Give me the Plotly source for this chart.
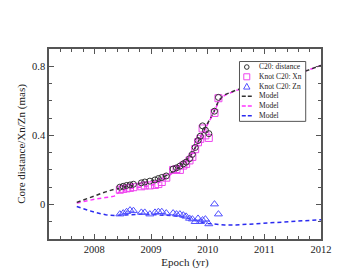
import plotly.graph_objects as go

# ---- data ----
epochs = [2008.45, 2008.51, 2008.57, 2008.63, 2008.69, 2008.83, 2008.89, 2008.98,
          2009.07, 2009.13, 2009.19, 2009.27, 2009.39, 2009.45, 2009.51, 2009.57,
          2009.62, 2009.68, 2009.73, 2009.78, 2009.83, 2009.87, 2009.91, 2009.96,
          2010.02, 2010.12, 2010.19]
c20_distance = [0.100, 0.105, 0.110, 0.113, 0.117, 0.125, 0.130, 0.135,
                0.142, 0.150, 0.156, 0.165, 0.205, 0.212, 0.222, 0.235,
                0.245, 0.265, 0.290, 0.330, 0.370, 0.395, 0.455, 0.430,
                0.410, 0.540, 0.620]
c20_xn = [0.085, 0.090, 0.093, 0.096, 0.100, 0.105, 0.110, 0.110,
          0.113, 0.118, 0.130, 0.155, 0.200, 0.205, 0.200, 0.225,
          0.235, 0.255, 0.275, 0.320, 0.360, 0.380, 0.440, 0.400,
          0.385, 0.530, 0.615]
c20_zn = [-0.056, -0.050, -0.042, -0.033, -0.036, -0.046, -0.046, -0.056,
          -0.046, -0.042, -0.042, -0.050, -0.050, -0.056, -0.056, -0.062,
          -0.069, -0.081, -0.085, -0.100, -0.081, -0.100, -0.090, -0.085,
          -0.113, 0.002, -0.056]

model_t = [2007.69, 2007.85, 2008.0, 2008.2, 2008.35, 2008.45, 2008.6, 2008.8,
           2009.0, 2009.2, 2009.4, 2009.5, 2009.6, 2009.7, 2009.8, 2009.9,
           2010.0, 2010.1, 2010.2, 2010.3, 2010.5, 2010.7, 2011.0, 2011.25,
           2011.5, 2011.75, 2012.0]
model_dist = [0.012, 0.032, 0.052, 0.073, 0.088, 0.096, 0.108, 0.121,
              0.135, 0.155, 0.190, 0.215, 0.245, 0.285, 0.340, 0.410,
              0.470, 0.530, 0.605, 0.635, 0.662, 0.680, 0.705, 0.728,
              0.750, 0.775, 0.805]
model_xn = [0.008, 0.020, 0.030, 0.040, 0.048, 0.075, 0.090, 0.100,
            0.110, 0.135, 0.185, 0.210, 0.240, 0.280, 0.335, 0.405,
            0.465, 0.525, 0.600, 0.632, 0.660, 0.680, 0.705, 0.728,
            0.750, 0.775, 0.805]
model_zn = [-0.012, -0.030, -0.045, -0.060, -0.064, -0.062, -0.058, -0.057,
            -0.058, -0.060, -0.065, -0.070, -0.075, -0.085, -0.095, -0.103,
            -0.110, -0.114, -0.117, -0.119, -0.119, -0.115, -0.108, -0.103,
            -0.098, -0.093, -0.088]

legend_labels = ["C20: distance", "Knot C20: Xn", "Knot C20: Zn", "Model", "Model", "Model"]

BLACK = "#333333"
MAG = "#ff33ff"
BLUE = "#2a2af0"
FONT = "Liberation Serif"
DASH = "4px,3px"

fig = go.Figure()
fig.add_trace(go.Scatter(x=model_t, y=model_zn, mode="lines",
                         line=dict(color=BLUE, width=1.5, dash=DASH)))
fig.add_trace(go.Scatter(x=model_t, y=model_xn, mode="lines",
                         line=dict(color=MAG, width=1.5, dash=DASH)))
fig.add_trace(go.Scatter(x=model_t, y=model_dist, mode="lines",
                         line=dict(color=BLACK, width=1.5, dash=DASH)))
fig.add_trace(go.Scatter(x=epochs, y=c20_zn, mode="markers",
                         marker=dict(symbol="triangle-up-open", size=7, color="#5050ff", line=dict(width=1))))
fig.add_trace(go.Scatter(x=epochs, y=c20_xn, mode="markers",
                         marker=dict(symbol="square-open", size=7, color="#ee44ee", line=dict(width=1))))
fig.add_trace(go.Scatter(x=epochs, y=c20_distance, mode="markers",
                         marker=dict(symbol="circle-open", size=6, color="#333333", line=dict(width=1))))

# ---- manual legend (paper coordinates) ----
L, R, T, B = 41, 313.3, 41, 230.7
def px(x): return (x - L) / (R - L)
def py(y): return (B - y) / (B - T)

LEG_FS = 7.5
step = LEG_FS * 1.3
rows = [59 + step * i for i in range(6)]

shapes = [dict(type="rect", xref="paper", yref="paper",
               x0=px(231.7), x1=px(298), y0=py(rows[-1] + 5.5), y1=py(rows[0] - 5.5),
               line=dict(color="#555555", width=1), fillcolor="white", layer="above")]
mx = 239
shapes.append(dict(type="circle", xref="paper", yref="paper",
                   x0=px(mx - 2.3), x1=px(mx + 2.3), y0=py(rows[0] + 2.3), y1=py(rows[0] - 2.3),
                   line=dict(color="#333333", width=1), layer="above"))
shapes.append(dict(type="rect", xref="paper", yref="paper",
                   x0=px(mx - 3), x1=px(mx + 3), y0=py(rows[1] + 3), y1=py(rows[1] - 3),
                   line=dict(color="#ee44ee", width=1), layer="above"))
tri = "M {} {} L {} {} L {} {} Z".format(px(mx), py(rows[2] - 3.2), px(mx - 3.2), py(rows[2] + 2.5),
                                         px(mx + 3.2), py(rows[2] + 2.5))
shapes.append(dict(type="path", xref="paper", yref="paper", path=tri,
                   line=dict(color="#5050ff", width=1), layer="above"))
for r, col in zip(rows[3:], [BLACK, MAG, BLUE]):
    shapes.append(dict(type="line", xref="paper", yref="paper",
                       x0=px(234), x1=px(245), y0=py(r), y1=py(r),
                       line=dict(color=col, width=1.5, dash="4px,2px"), layer="above"))

annotations = [dict(xref="paper", yref="paper", x=px(250.5), y=py((rows[0] + rows[-1]) / 2),
                    text="<br>".join(legend_labels), align="left",
                    showarrow=False, xanchor="left", yanchor="middle", borderpad=0,
                    font=dict(family=FONT, size=LEG_FS, color="#222222"))]

fig.update_layout(
    width=353, height=273,
    margin=dict(l=41, r=353 - 313.3, t=41, b=273 - 230.7),
    paper_bgcolor="white", plot_bgcolor="white",
    showlegend=False,
    font=dict(family=FONT, size=10.5, color="#222222"),
    shapes=shapes, annotations=annotations,
    xaxis=dict(range=[2007.2, 2012], tickmode="array",
               tickvals=[2008, 2009, 2010, 2011, 2012],
               ticktext=["2008", "2009", "2010", "2011", "2012"],
               ticks="inside", ticklen=5, tickcolor="#555555", tickwidth=1,
               minor=dict(dtick=0.2, tick0=2008, ticks="inside", ticklen=3, tickcolor="#555555"),
               showline=True, linecolor="#555555", linewidth=1.5, mirror="ticks",
               showgrid=False, zeroline=False,
               title=dict(text="Epoch (yr)", font=dict(family=FONT, size=11), standoff=4)),
    yaxis=dict(range=[-0.2, 0.9], tickmode="array",
               tickvals=[0, 0.4, 0.8], ticktext=["0", "0.4", "0.8"],
               ticks="inside", ticklen=5, tickcolor="#555555", tickwidth=1,
               minor=dict(dtick=0.1, tick0=0, ticks="inside", ticklen=3, tickcolor="#555555"),
               showline=True, linecolor="#555555", linewidth=1.5, mirror="ticks",
               showgrid=False, zeroline=False,
               title=dict(text="Core distance/Xn/Zn (mas)", font=dict(family=FONT, size=11), standoff=4)),
)

fig.write_html("out.html")
